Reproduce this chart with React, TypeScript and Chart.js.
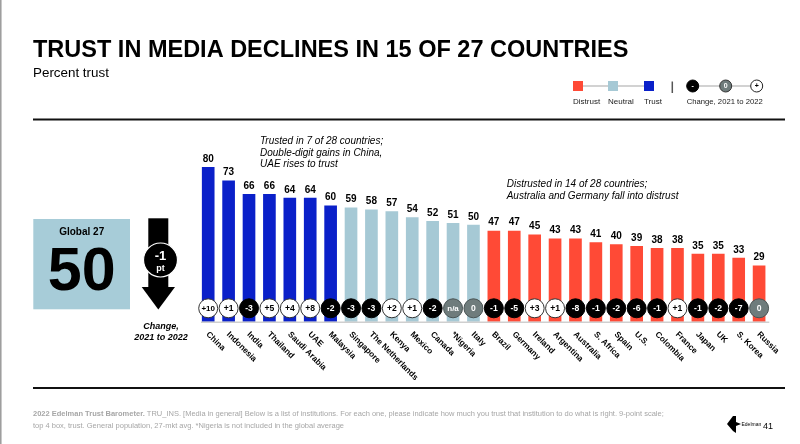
import { useEffect, useRef } from "react";
import { Chart, registerables } from "chart.js";

Chart.register(...registerables);

const countries = ["China", "Indonesia", "India", "Thailand", "Saudi Arabia", "UAE", "Malaysia", "Singapore", "The Netherlands", "Kenya", "Mexico", "Canada", "*Nigeria", "Italy", "Brazil", "Germany", "Ireland", "Argentina", "Australia", "S. Africa", "Spain", "U.S.", "Colombia", "France", "Japan", "UK", "S. Korea", "Russia"];
const trustValues = [80, 73, 66, 66, 64, 64, 60, 59, 58, 57, 54, 52, 51, 50, 47, 47, 45, 43, 43, 41, 40, 39, 38, 38, 35, 35, 33, 29];
const changeLabels = ["+10", "+1", "-3", "+5", "+4", "+8", "-2", "-3", "-3", "+2", "+1", "-2", "n/a", "0", "-1", "-5", "+3", "+1", "-8", "-1", "-2", "-6", "-1", "+1", "-1", "-2", "-7", "0"];
const globalLabel = "Global 27";
const globalValue = "50";
const globalChange = "-1";
const legendLabels = ["Distrust", "Neutral", "Trust"];
const changeLegend = "Change, 2021 to 2022";
const titleText = "TRUST IN MEDIA DECLINES IN 15 OF 27 COUNTRIES";
const subtitleText = "Percent trust";
const noteTrust = ["Trusted in 7 of 28 countries;", "Double-digit gains in China,", "UAE rises to trust"];
const noteDistrust = ["Distrusted in 14 of 28 countries;", "Australia and Germany fall into distrust"];
const footerBold = "2022 Edelman Trust Barometer.";
const footer1 = " TRU_INS. [Media in general] Below is a list of institutions. For each one, please indicate how much you trust that institution to do what is right. 9-point scale;";
const footer2 = "top 4 box, trust. General population, 27-mkt avg. *Nigeria is not included in the global average";

const BLUE = "#0a20c9";
const NEUTRAL = "#a6c9d5";
const RED = "#ff4a36";
const GREY_C = "#6f7c7c";
const F = '"Liberation Sans", Arial, sans-serif';

function barColor(v: number) {
  if (v >= 60) return BLUE;
  if (v >= 50) return NEUTRAL;
  return RED;
}

const decoPlugin = {
  id: "deco",
  afterDraw(chart: any) {
    const ctx: CanvasRenderingContext2D = chart.ctx;
    const xs = chart.scales.x;
    const ys = chart.scales.y;
    const y0 = ys.getPixelForValue(0);
    ctx.save();

    // left page edge
    ctx.strokeStyle = "#9a9a9a";
    ctx.lineWidth = 1.5;
    ctx.beginPath();
    ctx.moveTo(0.8, 0);
    ctx.lineTo(0.8, 444);
    ctx.stroke();

    // title
    ctx.fillStyle = "#000";
    ctx.textAlign = "left";
    ctx.textBaseline = "alphabetic";
    ctx.font = `bold 23.5px ${F}`;
    ctx.fillText(titleText, 33, 57);
    ctx.font = `13.4px ${F}`;
    ctx.fillText(subtitleText, 33, 77);

    // rules
    ctx.strokeStyle = "#111";
    ctx.lineWidth = 2;
    ctx.beginPath();
    ctx.moveTo(33, 119.5);
    ctx.lineTo(785, 119.5);
    ctx.moveTo(33, 388);
    ctx.lineTo(785, 388);
    ctx.stroke();

    // legend
    ctx.strokeStyle = "#c4c4c4";
    ctx.lineWidth = 1.5;
    ctx.beginPath();
    ctx.moveTo(578, 86);
    ctx.lineTo(649, 86);
    ctx.moveTo(693, 86);
    ctx.lineTo(757, 86);
    ctx.stroke();
    const sq = [[578, RED], [613, NEUTRAL], [649, BLUE]] as const;
    ctx.font = `8px ${F}`;
    sq.forEach(([x, c], i) => {
      ctx.fillStyle = c;
      ctx.fillRect(x - 5, 81, 10, 10);
      ctx.fillStyle = "#222";
      ctx.textAlign = "left";
      ctx.fillText(legendLabels[i], x - 5, 104);
    });
    ctx.strokeStyle = "#555";
    ctx.lineWidth = 1.5;
    ctx.beginPath();
    ctx.moveTo(672.3, 81.5);
    ctx.lineTo(672.3, 93);
    ctx.stroke();
    // legend circles
    const lc: [number, string, string, string, string][] = [
      [692.7, "#000", "#000", "#fff", "-"],
      [725.7, GREY_C, "#333", "#fff", "0"],
      [756.7, "#fff", "#222", "#000", "+"],
    ];
    lc.forEach(([x, fill, stroke, tc, t]) => {
      ctx.beginPath();
      ctx.arc(x, 86, 6, 0, Math.PI * 2);
      ctx.fillStyle = fill;
      ctx.fill();
      ctx.strokeStyle = stroke;
      ctx.lineWidth = 1;
      ctx.stroke();
      ctx.fillStyle = tc;
      ctx.font = `bold 7px ${F}`;
      ctx.textAlign = "center";
      ctx.textBaseline = "middle";
      ctx.fillText(t, x, 86.5);
    });
    ctx.textBaseline = "alphabetic";
    ctx.fillStyle = "#222";
    ctx.font = `7.7px ${F}`;
    ctx.textAlign = "center";
    ctx.fillText(changeLegend, 724.7, 104);

    // left panel
    ctx.fillStyle = "#a7ccd8";
    ctx.fillRect(33.3, 219, 96.7, 90.3);
    ctx.fillStyle = "#000";
    ctx.font = `bold 10px ${F}`;
    ctx.textAlign = "center";
    ctx.fillText(globalLabel, 81.7, 235);
    ctx.font = `bold 61px ${F}`;
    ctx.fillText(globalValue, 81.7, 290);
    // arrow
    ctx.fillStyle = "#000";
    ctx.fillRect(148.3, 218.3, 20, 70);
    ctx.beginPath();
    ctx.moveTo(141.7, 287);
    ctx.lineTo(175, 287);
    ctx.lineTo(158.3, 309.5);
    ctx.closePath();
    ctx.fill();
    ctx.beginPath();
    ctx.arc(160.5, 260, 17, 0, Math.PI * 2);
    ctx.fillStyle = "#000";
    ctx.fill();
    ctx.strokeStyle = "#fff";
    ctx.lineWidth = 1.2;
    ctx.stroke();
    ctx.fillStyle = "#fff";
    ctx.font = `bold 13px ${F}`;
    ctx.fillText(globalChange, 160.5, 260);
    ctx.font = `bold 9px ${F}`;
    ctx.fillText("pt", 160.5, 271);
    ctx.fillStyle = "#000";
    ctx.font = `italic bold 9px ${F}`;
    ctx.fillText("Change,", 161, 328.5);
    ctx.fillText("2021 to 2022", 161, 339.5);

    // notes
    ctx.font = `italic 10px ${F}`;
    ctx.textAlign = "left";
    noteTrust.forEach((t, i) => ctx.fillText(t, 260, 144.2 + i * 11.6));
    noteDistrust.forEach((t, i) => ctx.fillText(t, 506.7, 187.3 + i * 11.7));

    // baseline
    ctx.strokeStyle = "#cfcfcf";
    ctx.lineWidth = 1.5;
    ctx.beginPath();
    ctx.moveTo(chart.chartArea.left + 3, y0 + 0.5);
    ctx.lineTo(chart.chartArea.right, y0 + 0.5);
    ctx.stroke();

    // bar values, change circles, x labels
    trustValues.forEach((v, i) => {
      const cx = xs.getPixelForValue(i);
      const top = ys.getPixelForValue(v);
      ctx.fillStyle = "#000";
      ctx.font = `bold 10px ${F}`;
      ctx.textAlign = "center";
      ctx.textBaseline = "alphabetic";
      ctx.fillText(String(v), cx, top - 5.5);

      const ch = changeLabels[i];
      const cy = y0 - 13.4;
      let fill = GREY_C, stroke = "#4a5454", tc = "#fff";
      if (ch.startsWith("+")) { fill = "#fff"; stroke = "#333"; tc = "#000"; }
      else if (ch.startsWith("-")) { fill = "#000"; stroke = "#000"; tc = "#fff"; }
      ctx.beginPath();
      ctx.arc(cx, cy, 9.5, 0, Math.PI * 2);
      ctx.fillStyle = fill;
      ctx.fill();
      ctx.strokeStyle = stroke;
      ctx.lineWidth = 1;
      ctx.stroke();
      ctx.fillStyle = tc;
      ctx.font = `bold ${ch.length > 2 ? 8 : 8.6}px ${F}`;
      ctx.textBaseline = "middle";
      ctx.fillText(ch, cx, cy + 0.5);

      ctx.save();
      ctx.translate(cx + 2.2, y0 + 8.5);
      ctx.rotate(Math.PI / 4);
      ctx.fillStyle = "#000";
      ctx.font = `bold 8.3px ${F}`;
      ctx.textAlign = "left";
      ctx.textBaseline = "top";
      ctx.fillText(countries[i], 0, 0);
      ctx.restore();
    });

    // footer
    ctx.textBaseline = "alphabetic";
    ctx.textAlign = "left";
    ctx.fillStyle = "#a6a6a6";
    ctx.font = `bold 7.5px ${F}`;
    ctx.fillText(footerBold, 33, 416);
    const bw = ctx.measureText(footerBold).width;
    ctx.font = `7.5px ${F}`;
    ctx.fillText(footer1, 33 + bw, 416);
    ctx.fillText(footer2, 33, 428);

    // logo
    ctx.fillStyle = "#000";
    ctx.beginPath();
    ctx.moveTo(733, 416);
    ctx.lineTo(736, 416);
    ctx.lineTo(736, 422);
    ctx.lineTo(741, 424);
    ctx.lineTo(736, 426);
    ctx.lineTo(736, 433);
    ctx.lineTo(733, 431);
    ctx.lineTo(727, 424);
    ctx.closePath();
    ctx.fill();
    ctx.font = `5px ${F}`;
    ctx.fillText("Edelman", 741.5, 426);
    ctx.font = `9px ${F}`;
    ctx.fillText("41", 763, 428.5);

    ctx.restore();
  },
};

export default function App() {
  const ref = useRef<HTMLCanvasElement | null>(null);
  useEffect(() => {
    if (!ref.current) return;
    const chart = new Chart(ref.current, {
      type: "bar",
      data: {
        labels: countries,
        datasets: [
          {
            data: trustValues,
            backgroundColor: trustValues.map(barColor),
            barThickness: 12,
            borderWidth: 0,
          },
        ],
      },
      options: {
        responsive: false,
        maintainAspectRatio: false,
        animation: false,
        layout: { padding: { left: 198, right: 30.7, top: 128.7, bottom: 122.3 } },
        scales: {
          x: { display: false, offset: true, grid: { display: false } },
          y: { display: false, min: 0, max: 100, grid: { display: false } },
        },
        plugins: { legend: { display: false }, tooltip: { enabled: false }, title: { display: false } },
      },
      plugins: [decoPlugin],
    });
    return () => chart.destroy();
  }, []);
  return (
    <div style={{ position: "absolute", left: 0, top: 0, width: 800, height: 444, background: "#fff" }}>
      <canvas ref={ref} width={800} height={444} style={{ width: 800, height: 444, display: "block" }} />
    </div>
  );
}
